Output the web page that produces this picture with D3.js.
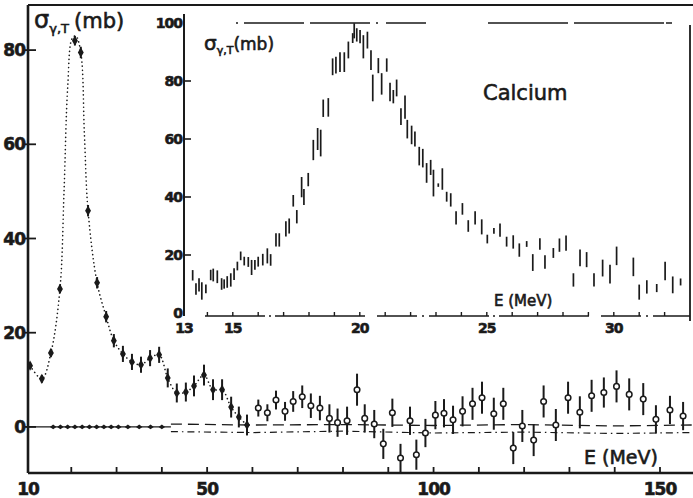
<!DOCTYPE html>
<html>
<head>
<meta charset="utf-8">
<script src="https://cdn.jsdelivr.net/npm/d3@7"></script>
<style>
  body { margin: 0; background: #fff; }
  svg { display: block; }
  text { font-family: "DejaVu Sans", sans-serif; fill: #1a1a1a; }
  .heavy { stroke: #1a1a1a; stroke-width: 0.6px; }
</style>
</head>
<body>
<div id="chart"></div>
<script>
// main plot: total photo-absorption cross section vs photon energy
var mainE = [10.9, 13.5, 15.5, 17.5, 20.8, 22.1, 23.7, 25.7, 27.7, 29.4, 31.4, 33.4, 35.4, 37.4, 39.4,
  41.3, 43.3, 45.3, 47.1, 49.3, 51.3, 53.3, 55.3, 57.0, 58.8];
var mainSigma = [13, 10.2, 15.7, 29.3, 82, 79.5, 45.9, 30.6, 23.4, 18.3, 15.5, 13.8, 13.2, 14.6, 15.3,
  10.4, 7.2, 7.4, 8.7, 11.0, 7.9, 7.9, 4.2, 2.1, 0.4];
var mainErr = [0.5, 0.6, 0.6, 0.7, 0.8, 1, 1, 1, 1, 1.2, 1.5, 1.5, 1.5, 1.5, 1.5,
  1.8, 1.8, 1.8, 2, 2, 2, 2, 2, 2, 2];

var highE = [61.3, 63.3, 65.2, 67.2, 69.0, 71.0, 72.9, 74.9, 77.0, 78.8, 80.9, 83.1, 84.8, 86.9, 88.9,
  90.9, 92.7, 94.8, 96.2, 98.2, 100.4, 102.3, 104.3, 106.4, 108.6, 110.7, 113.3, 115.4, 117.6, 119.6,
  122.1, 124.3, 127.0, 129.7, 132.3, 134.9, 137.6, 140.4, 143.2, 146.3, 149.1, 152.2, 155.1];
var highSigma = [4.0, 3.0, 5.7, 3.3, 5.4, 6.4, 4.5, 4.0, 1.8, 0.9, 1.3, 7.9, 1.8, 0.6, -3.6,
  3.0, -6.6, 1.3, -5.9, -1.3, 2.5, 2.9, 1.5, 3.3, 4.9, 6.2, 2.8, 4.9, -4.5, 0.2,
  -2.8, 5.4, 0.4, 6.2, 3.1, 6.6, 7.3, 8.6, 6.9, 5.9, 1.6, 3.6, 2.3];
var highErr = [1.8, 1.8, 2, 2, 2.2, 2.4, 2.6, 2.6, 3, 3, 3, 3.4, 3, 3, 3.2,
  3, 3, 3, 3.2, 3, 3, 3, 3, 3.2, 3.4, 3.4, 3.4, 3.4, 3.4, 3.4,
  3.4, 3.4, 3.4, 3.4, 3.4, 3.4, 3.2, 3.4, 3.4, 3.4, 3, 3, 3];

// dotted guide curve through the low energy points
var curveE = [10.9, 13.5, 15.5, 17.5, 18.4, 19.2, 20.2, 21.0, 22.1, 22.9, 23.7, 25.7, 27.7, 29.4, 31.4,
  33.4, 35.4, 37.4, 39.4, 41.3, 43.3, 45.3, 47.1, 49.3, 51.3, 53.3, 55.3, 57.0, 58.8];
var curveSigma = [13, 10.2, 15.7, 29.3, 50, 72, 82.5, 83, 79.5, 62, 45.9, 30.6, 23.4, 18.3, 15.5,
  13.8, 13.2, 14.6, 15.3, 10.4, 7.2, 7.4, 8.7, 11.0, 7.9, 7.9, 4.2, 2.1, 0.4];

// small points lying on the zero line
var zeroE = [16, 17.6, 19.2, 20.8, 22.4, 24, 25.6, 27.2, 28.8, 30.4, 32.5, 35, 37.5, 40];

// reference lines near zero
var refDashE = [42, 60, 80, 100, 120, 140, 157];
var refDashSigma = [0.6, 0.4, 0.5, 0.3, 0.5, 0.2, 0.4];
var refDotE = [42, 60, 80, 100, 120, 140, 157];
var refDotSigma = [-1.0, -1.2, -0.9, -1.3, -1.1, -1.4, -1.2];

var mainXTicks = [10, 50, 100, 150];
var mainYTicks = [0, 20, 40, 60, 80];

// inset: giant dipole resonance region
var insetE = [13.08, 13.42, 13.55, 13.67, 13.78, 13.94, 14.13, 14.23, 14.39, 14.56, 14.66, 14.78, 14.92, 15.05, 15.18,
  15.31, 15.45, 15.61, 15.74, 15.87, 16.0, 16.18, 16.36, 16.49, 16.7, 16.83, 17.09, 17.22, 17.38, 17.52,
  17.71, 17.8, 17.97, 18.17, 18.34, 18.46, 18.56, 18.76, 18.93, 19.06, 19.22, 19.39, 19.55, 19.72, 19.78,
  19.88, 20.01, 20.14, 20.3, 20.44, 20.51, 20.73, 20.86, 21.06, 21.19, 21.32, 21.45, 21.62, 21.78, 21.87,
  22.04, 22.17, 22.34, 22.48, 22.63, 22.79, 22.9, 23.09, 23.25, 23.42, 23.58, 23.79, 24.04, 24.27, 24.54,
  24.8, 25.02, 25.28, 25.52, 25.78, 26.04, 26.28, 26.57, 26.81, 27.09, 27.29, 27.62, 27.86, 28.12, 28.41,
  28.67, 28.93, 29.22, 29.56, 29.85, 30.11, 30.77, 31.0, 31.3, 31.69, 32.02, 32.32, 32.63];
var insetSigma = [8.1, 13.0, 8.3, 9.7, 7.6, 8.3, 13.1, 13.1, 12.5, 10.0, 10.0, 10.7, 11.4, 13.4, 16.2,
  19.7, 17.9, 17.6, 15.7, 16.6, 17.7, 18.4, 19.7, 18.3, 25.2, 25.2, 29.0, 30.0, 38.7, 33.2,
  43.4, 40.0, 46.0, 56.2, 60.0, 58.6, 70.6, 70.9, 84.9, 85.5, 86.5, 86.5, 90.7, 94.8, 97.3,
  95.9, 95.3, 91.8, 94.1, 87.2, 77.6, 85.3, 79.0, 85.5, 76.2, 74.6, 77.6, 67.7, 71.0, 63.4,
  61.4, 60.0, 54.1, 53.4, 48.3, 50.2, 44.8, 44.1, 46.2, 40.1, 39.0, 32.8, 35.9, 30.0, 32.8,
  29.7, 25.5, 28.3, 28.6, 24.6, 24.5, 21.7, 23.8, 17.4, 23.8, 17.6, 20.7, 23.4, 24.1, 11.4,
  19.0, 18.4, 11.4, 15.5, 13.4, 19.7, 15.9, 7.2, 9.0, 8.6, 14.5, 9.7, 10.7];
var insetErr = [2.6, 1.8, 2.0, 2.3, 3.0, 1.5, 1.8, 2.2, 2.2, 2.0, 1.6, 2.0, 2.3, 2.0, 1.5,
  1.5, 1.5, 1.7, 2.6, 1.7, 1.7, 2.0, 2.6, 2.0, 2.3, 2.3, 2.6, 2.6, 2.0, 2.3,
  3.5, 2.8, 2.3, 3.5, 3.8, 4.6, 3.0, 3.2, 2.9, 2.9, 3.4, 3.4, 2.9, 1.7, 2.6,
  2.3, 2.3, 4.0, 2.9, 3.4, 4.6, 2.6, 3.7, 2.3, 3.2, 2.3, 2.9, 2.9, 4.0, 3.2,
  3.2, 2.6, 3.2, 3.2, 3.4, 2.6, 4.6, 0.6, 3.7, 1.7, 2.3, 2.3, 2.0, 2.0, 2.3,
  2.6, 1.5, 1.0, 2.3, 1.7, 2.3, 2.3, 1.0, 2.9, 2.0, 2.3, 1.7, 2.3, 2.6, 2.3,
  2.9, 2.6, 2.3, 2.9, 3.2, 3.2, 3.2, 2.6, 2.3, 1.4, 3.2, 2.9, 1.2];

var insetXTicks = [13, 15, 20, 25, 30];
var insetXMinor = [14, 16, 17, 18, 19, 21, 22, 23, 24, 26, 27, 28, 29, 31, 32];
var insetYTicks = [0, 20, 40, 60, 80, 100];

var svgWidth = 693;
var svgHeight = 498;
var ink = "#1a1a1a";

var svg = d3.select("#chart")
  .append("svg")
  .attr("width", svgWidth)
  .attr("height", svgHeight);

var xScale = d3.scaleLinear().domain([10, 150]).range([26, 660]);
var yScale = d3.scaleLinear().domain([-10, 90]).range([474, 3]);

var x0 = 28, yBottom = 473, yTop = 5;

// frame of main plot
svg.append("line").attr("x1", x0).attr("x2", x0).attr("y1", yTop).attr("y2", yBottom)
  .attr("stroke", ink).attr("stroke-width", 2.6);
svg.append("line").attr("x1", x0).attr("x2", svgWidth).attr("y1", yBottom).attr("y2", yBottom)
  .attr("stroke", ink).attr("stroke-width", 2.4);
svg.append("line").attr("x1", x0).attr("x2", svgWidth).attr("y1", yTop).attr("y2", yTop)
  .attr("stroke", ink).attr("stroke-width", 2.2);

// x ticks every 10 MeV, labelled at 10, 50, 100, 150
svg.selectAll(".xminor")
  .data(d3.range(20, 160, 10))
  .enter()
  .append("line")
  .attr("x1", d => xScale(d)).attr("x2", d => xScale(d))
  .attr("y1", yBottom).attr("y2", yBottom - 6)
  .attr("stroke", ink).attr("stroke-width", 1.8);

svg.selectAll(".xlab")
  .data(mainXTicks)
  .enter()
  .append("text")
  .attr("class", "heavy")
  .attr("x", d => d == 10 ? x0 : xScale(d))
  .attr("y", 495)
  .attr("text-anchor", "middle")
  .attr("font-size", "17px")
  .attr("font-weight", "bold")
  .attr("letter-spacing", "-1")
  .text(d => d);

svg.selectAll(".yminor")
  .data(mainYTicks)
  .enter()
  .append("line")
  .attr("x1", x0 - 3).attr("x2", x0 + 8)
  .attr("y1", d => yScale(d)).attr("y2", d => yScale(d))
  .attr("stroke", ink).attr("stroke-width", 1.8);

svg.selectAll(".ylab")
  .data(mainYTicks)
  .enter()
  .append("text")
  .attr("class", "heavy")
  .attr("x", 25)
  .attr("y", d => yScale(d) + 6)
  .attr("text-anchor", "end")
  .attr("font-size", "17px")
  .attr("font-weight", "bold")
  .attr("letter-spacing", "-1")
  .text(d => d);

// main axis titles
var yTitle = svg.append("text")
  .attr("class", "heavy")
  .attr("x", 34)
  .attr("y", 28)
  .attr("font-size", "21px");
yTitle.append("tspan").attr("font-size", "24px").text("σ");
yTitle.append("tspan").attr("font-size", "13px").attr("dy", 5).text("γ,T");
yTitle.append("tspan").attr("dy", -5).attr("dx", 5).text("(mb)");

svg.append("text")
  .attr("class", "heavy")
  .attr("x", 584)
  .attr("y", 464)
  .attr("font-size", "19px")
  .text("E (MeV)");

// reference lines near zero
svg.append("line")
  .attr("x1", xScale(10)).attr("x2", xScale(42))
  .attr("y1", yScale(0)).attr("y2", yScale(0))
  .attr("stroke", ink).attr("stroke-width", 1.4);

var refLine = d3.line()
  .x(d => xScale(d[0]))
  .y(d => yScale(d[1]));

svg.append("path")
  .datum(d3.zip(refDashE, refDashSigma))
  .attr("d", refLine)
  .attr("fill", "none")
  .attr("stroke", ink)
  .attr("stroke-width", 1.3)
  .attr("stroke-dasharray", "11,6");

svg.append("path")
  .datum(d3.zip(refDotE, refDotSigma))
  .attr("d", refLine)
  .attr("fill", "none")
  .attr("stroke", ink)
  .attr("stroke-width", 1.2)
  .attr("stroke-dasharray", "7,4,1.5,4");

svg.selectAll(".zero")
  .data(zeroE)
  .enter()
  .append("path")
  .attr("d", d3.symbol().type(d3.symbolDiamond).size(14))
  .attr("transform", d => `translate(${xScale(d)},${yScale(0)}) scale(1.6,0.7)`)
  .attr("fill", ink);

// dotted guide curve
svg.append("path")
  .datum(d3.zip(curveE, curveSigma))
  .attr("d", d3.line().x(d => xScale(d[0])).y(d => yScale(d[1])).curve(d3.curveCatmullRom))
  .attr("fill", "none")
  .attr("stroke", ink)
  .attr("stroke-width", 1.6)
  .attr("stroke-linecap", "round")
  .attr("stroke-dasharray", "0.1,4");

// low energy points: filled diamonds with error bars
var lowData = d3.zip(mainE, mainSigma, mainErr);

svg.selectAll(".lowbar")
  .data(lowData)
  .enter()
  .append("line")
  .attr("x1", d => xScale(d[0])).attr("x2", d => xScale(d[0]))
  .attr("y1", d => yScale(d[1] + d[2]) - 1).attr("y2", d => yScale(d[1] - d[2]) + 1)
  .attr("stroke", ink).attr("stroke-width", 2);

svg.selectAll(".lowpt")
  .data(lowData)
  .enter()
  .append("path")
  .attr("d", d3.symbol().type(d3.symbolDiamond).size(30))
  .attr("transform", d => `translate(${xScale(d[0])},${yScale(d[1])})`)
  .attr("fill", ink);

// high energy points: open circles with error bars
var highData = d3.zip(highE, highSigma, highErr);

svg.selectAll(".highbar")
  .data(highData)
  .enter()
  .append("line")
  .attr("x1", d => xScale(d[0])).attr("x2", d => xScale(d[0]))
  .attr("y1", d => yScale(d[1] + d[2])).attr("y2", d => yScale(d[1] - d[2]))
  .attr("stroke", ink).attr("stroke-width", 2);

svg.selectAll(".highpt")
  .data(highData)
  .enter()
  .append("circle")
  .attr("cx", d => xScale(d[0]))
  .attr("cy", d => yScale(d[1]))
  .attr("r", 2.8)
  .attr("fill", "#fff")
  .attr("stroke", ink)
  .attr("stroke-width", 1.5);

// ---- inset ----
var ix = d3.scaleLinear().domain([13, 33]).range([182, 690]);
var iy = d3.scaleLinear().domain([0, 100]).range([313, 23]);
var iLeft = 184, iBottom = 316;

svg.append("rect")
  .attr("x", iLeft).attr("y", yTop + 2)
  .attr("width", 690 - iLeft).attr("height", iBottom - yTop)
  .attr("fill", "#fff");

svg.append("line").attr("x1", iLeft).attr("x2", iLeft).attr("y1", 14).attr("y2", iBottom)
  .attr("stroke", ink).attr("stroke-width", 2);
svg.append("line").attr("x1", 690).attr("x2", 690).attr("y1", 25).attr("y2", 321)
  .attr("stroke", ink).attr("stroke-width", 1.8);
svg.append("line").attr("x1", 205).attr("x2", 690).attr("y1", iBottom).attr("y2", iBottom)
  .attr("stroke", ink).attr("stroke-width", 1.5)
  .attr("stroke-dasharray", "60,4,2,4,90,12,40,5,2,5");
svg.append("line").attr("x1", 236).attr("x2", 690).attr("y1", iy(100)).attr("y2", iy(100))
  .attr("stroke", ink).attr("stroke-width", 1.5)
  .attr("stroke-dasharray", "2,6,60,6,60,6,2,8,40,62,80,6,90");

svg.selectAll(".iytick")
  .data(insetYTicks.slice(1, 5))
  .enter()
  .append("line")
  .attr("x1", iLeft).attr("x2", iLeft + 7)
  .attr("y1", d => iy(d)).attr("y2", d => iy(d))
  .attr("stroke", ink).attr("stroke-width", 1.6);

svg.selectAll(".iylab")
  .data(insetYTicks)
  .enter()
  .append("text")
  .attr("class", "heavy")
  .attr("x", iLeft - 2)
  .attr("y", d => iy(d) + 5)
  .attr("text-anchor", "end")
  .attr("font-size", "14px")
  .attr("font-weight", "bold")
  .attr("letter-spacing", "-1")
  .text(d => d);

svg.selectAll(".ixtick")
  .data(insetXMinor.concat([15, 20, 25, 30]))
  .enter()
  .append("line")
  .attr("x1", d => ix(d)).attr("x2", d => ix(d))
  .attr("y1", iBottom).attr("y2", iBottom - 4)
  .attr("stroke", ink).attr("stroke-width", 1.4);

svg.selectAll(".ixlab")
  .data(insetXTicks)
  .enter()
  .append("text")
  .attr("class", "heavy")
  .attr("x", d => d == 13 ? iLeft : ix(d))
  .attr("y", 333)
  .attr("text-anchor", "middle")
  .attr("font-size", "14px")
  .attr("font-weight", "bold")
  .attr("letter-spacing", "-1")
  .text(d => d);

var iTitle = svg.append("text")
  .attr("class", "heavy")
  .attr("x", 204)
  .attr("y", 50)
  .attr("font-size", "17px");
iTitle.append("tspan").attr("font-size", "20px").text("σ");
iTitle.append("tspan").attr("font-size", "11px").attr("dy", 4).text("γ,T");
iTitle.append("tspan").attr("dy", -4).text("(mb)");

svg.append("text")
  .attr("class", "heavy")
  .attr("x", 483)
  .attr("y", 100)
  .attr("font-size", "21px")
  .text("Calcium");

svg.append("text")
  .attr("class", "heavy")
  .attr("x", 494)
  .attr("y", 306)
  .attr("font-size", "15px")
  .text("E (MeV)");

svg.selectAll(".ibar")
  .data(d3.zip(insetE, insetSigma, insetErr))
  .enter()
  .append("line")
  .attr("x1", d => ix(d[0])).attr("x2", d => ix(d[0]))
  .attr("y1", d => iy(d[1] + d[2])).attr("y2", d => iy(d[1] - d[2]))
  .attr("stroke", ink).attr("stroke-width", 1.7);
</script>
</body>
</html>
